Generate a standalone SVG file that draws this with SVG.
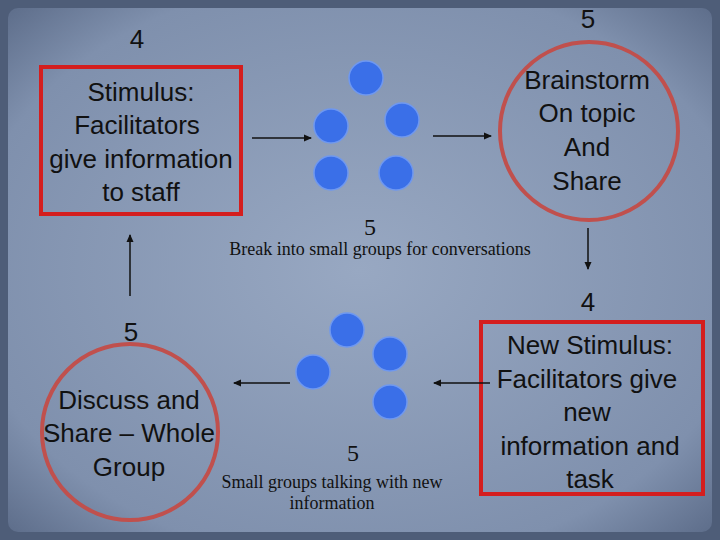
<svg xmlns="http://www.w3.org/2000/svg" width="720" height="540" viewBox="0 0 720 540">
<defs>
<radialGradient id="bg" cx="50%" cy="50%" r="70%"><stop offset="0" stop-color="#98a8c2"/><stop offset="0.8" stop-color="#7f90ad"/><stop offset="1" stop-color="#5f6f8c"/></radialGradient>
<marker id="ah" markerWidth="8" markerHeight="8" refX="7" refY="4" orient="auto" markerUnits="userSpaceOnUse"><path d="M0,0.5 L8,4 L0,7.5 Z" fill="#111"/></marker>
<style>
.t{font-family:"Liberation Sans",Arial,sans-serif;font-size:26px;fill:#111;text-anchor:middle}
.s{font-family:"Liberation Serif","Times New Roman",serif;fill:#111;text-anchor:middle}
.dot{fill:#3a6fe8;stroke:#6f98f0;stroke-width:1.5}
.box{fill:none;stroke:#d41e1e;stroke-width:4}
.ring{fill:none;stroke:#c0504d;stroke-width:4}
.c{stroke:#111;stroke-width:1.5;marker-end:url(#ah)}
</style>
</defs>
<rect width="720" height="540" fill="#4e5d78"/>
<rect x="8" y="8" width="704" height="524" rx="10" fill="url(#bg)"/>
<g id="n1"><rect class="box" x="41" y="67" width="200" height="147"/>
<text class="t" x="141" y="101">Stimulus:</text><text class="t" x="137" y="134">Facilitators</text><text class="t" x="141" y="168">give information</text><text class="t" x="141" y="201">to staff</text></g>
<g id="n2"><circle class="ring" cx="589" cy="131" r="89"/>
<text class="t" x="587" y="89">Brainstorm</text><text class="t" x="587" y="122">On topic</text><text class="t" x="587" y="156">And</text><text class="t" x="587" y="190">Share</text></g>
<g id="n3"><rect class="box" x="481" y="322" width="222" height="172"/>
<text class="t" x="590" y="354">New Stimulus:</text><text class="t" x="587" y="388">Facilitators give</text><text class="t" x="587" y="421">new</text><text class="t" x="590" y="455">information and</text><text class="t" x="590" y="488">task</text></g>
<g id="n4"><circle class="ring" cx="130" cy="432" r="88"/>
<text class="t" x="129" y="409">Discuss and</text><text class="t" x="129" y="442">Share – Whole</text><text class="t" x="129" y="476">Group</text></g>
<g id="g1"><circle class="dot" cx="366" cy="78" r="17"/><circle class="dot" cx="331" cy="126" r="17"/><circle class="dot" cx="402" cy="120" r="17"/><circle class="dot" cx="331" cy="173" r="17"/><circle class="dot" cx="396" cy="173" r="17"/>
<text class="s" x="370" y="235" font-size="24">5</text><text class="s" x="380" y="255" font-size="18">Break into small groups for conversations</text></g>
<g id="g2"><circle class="dot" cx="347" cy="330" r="17"/><circle class="dot" cx="390" cy="354" r="17"/><circle class="dot" cx="313" cy="372" r="17"/><circle class="dot" cx="390" cy="402" r="17"/>
<text class="s" x="353" y="461" font-size="24">5</text><text class="s" x="332" y="488" font-size="18">Small groups talking with new</text><text class="s" x="332" y="509" font-size="18">information</text></g>
<g id="labels"><text class="t" x="137" y="48">4</text><text class="t" x="588" y="28">5</text><text class="t" x="588" y="311">4</text><text class="t" x="131" y="341">5</text></g>
<g id="connectors">
<line class="c" x1="252" y1="138" x2="311" y2="138"/><line class="c" x1="433" y1="136" x2="491" y2="136"/>
<line class="c" x1="588" y1="228" x2="588" y2="269"/><line class="c" x1="130" y1="296" x2="130" y2="235"/>
<line class="c" x1="290" y1="383" x2="234" y2="383"/><line class="c" x1="490" y1="383" x2="434" y2="383"/>
</g>
</svg>
